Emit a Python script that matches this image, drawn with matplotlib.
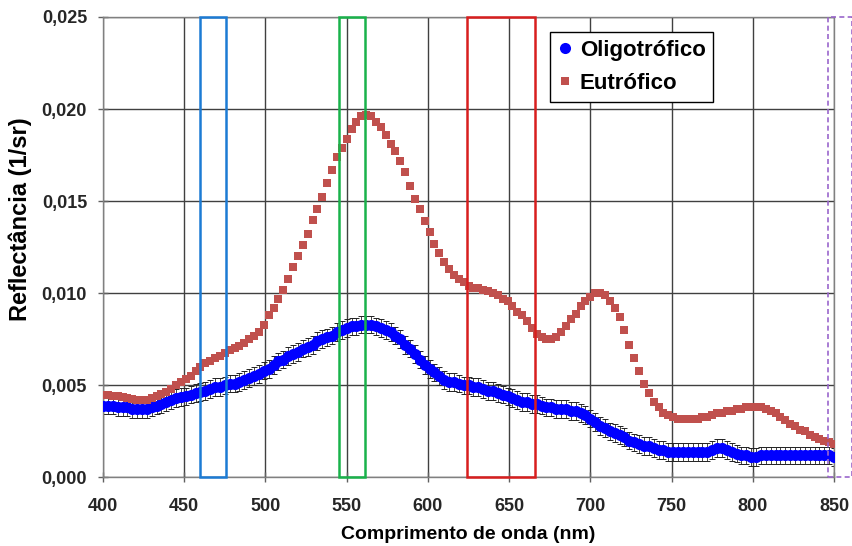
import matplotlib
matplotlib.use("Agg")
import matplotlib.pyplot as plt
from matplotlib.patches import Rectangle
from matplotlib.ticker import FuncFormatter, MultipleLocator

#-------data-------
wavelength = list(range(400, 851, 3))

oligo = [0.0039, 0.0039, 0.0039, 0.0038, 0.0038, 0.0038, 0.0037, 0.0037, 0.0037, 0.0037,
         0.0038, 0.0039, 0.0040, 0.0041, 0.0042, 0.0043, 0.00435, 0.0044, 0.0045, 0.0046,
         0.00465, 0.0047, 0.0048, 0.0049, 0.0049, 0.0050, 0.0051, 0.0051, 0.0052, 0.0053,
         0.0054, 0.0055, 0.0056, 0.0058, 0.0059, 0.0061, 0.0063, 0.0064, 0.0066, 0.0067,
         0.0068, 0.0070, 0.0071, 0.0072, 0.0074, 0.0075, 0.0076, 0.0077, 0.0079, 0.0080,
         0.0081, 0.0082, 0.0082, 0.0083, 0.0083, 0.0083, 0.0082, 0.0081, 0.0080, 0.0079,
         0.0077, 0.0075, 0.0072, 0.0070, 0.0067, 0.0064, 0.0061, 0.0059, 0.0057, 0.0055,
         0.0053, 0.0052, 0.0052, 0.0051, 0.0050, 0.0050, 0.0049, 0.0049, 0.0048, 0.0047,
         0.0047, 0.0046, 0.0045, 0.0044, 0.0043, 0.0042, 0.0041, 0.0041, 0.0040, 0.0040,
         0.0039, 0.0038, 0.0038, 0.0037, 0.0037, 0.0037, 0.0036, 0.0036, 0.0035, 0.0034,
         0.0032, 0.0030, 0.0028, 0.0027, 0.0025, 0.0024, 0.0023, 0.0022, 0.0020, 0.0019,
         0.0018, 0.0017, 0.0017, 0.0016, 0.0015, 0.0015, 0.0014, 0.0014, 0.0014, 0.0014,
         0.0014, 0.0014, 0.0014, 0.0014, 0.0014, 0.0015, 0.0016, 0.0016, 0.0015, 0.0014,
         0.0013, 0.0012, 0.0012, 0.0011, 0.0011, 0.0012, 0.0012, 0.0012, 0.0012, 0.0012,
         0.0012, 0.0012, 0.0012, 0.0012, 0.0012, 0.0012, 0.0012, 0.0012, 0.0012, 0.0012,
         0.0011]

eutro = [0.00447, 0.00446, 0.00444, 0.0044, 0.00436, 0.0043, 0.00424, 0.0042, 0.0042, 0.00422,
         0.0043, 0.0044, 0.00454, 0.00466, 0.0048, 0.0050, 0.0052, 0.00536, 0.0055, 0.0058,
         0.0060, 0.0062, 0.00634, 0.00646, 0.0066, 0.00675, 0.0069, 0.00704, 0.00716, 0.0073,
         0.0075, 0.0077, 0.0079, 0.0083, 0.0088, 0.0092, 0.0097, 0.0102, 0.0108, 0.0114,
         0.0120, 0.0126, 0.0132, 0.0140, 0.0146, 0.0152, 0.0160, 0.0167, 0.0174, 0.0179,
         0.0184, 0.0189, 0.0193, 0.0196, 0.0197, 0.0196, 0.0193, 0.0190, 0.0186, 0.0181,
         0.0177, 0.0172, 0.0166, 0.0158, 0.0151, 0.0146, 0.0139, 0.0133, 0.0127, 0.0122,
         0.0117, 0.0113, 0.0110, 0.0108, 0.0106, 0.0104, 0.0103, 0.0103, 0.0102, 0.0101,
         0.0100, 0.0099, 0.0097, 0.0096, 0.0093, 0.0090, 0.0088, 0.0085, 0.0081, 0.0078,
         0.0076, 0.0075, 0.0075, 0.0076, 0.0079, 0.0082, 0.0086, 0.0089, 0.0093, 0.0096,
         0.0098, 0.0100, 0.0100, 0.0099, 0.0096, 0.0092, 0.0087, 0.0080, 0.0072, 0.0065,
         0.0058, 0.0051, 0.0046, 0.0041, 0.0038, 0.0035, 0.0034, 0.0033, 0.0032, 0.0032,
         0.0032, 0.0032, 0.0032, 0.0033, 0.0033, 0.0034, 0.0035, 0.0035, 0.0036, 0.0036,
         0.0037, 0.0037, 0.0038, 0.0038, 0.0038, 0.0038, 0.0037, 0.0036, 0.0035, 0.0033,
         0.0031, 0.0029, 0.0028, 0.0026, 0.0025, 0.0023, 0.0022, 0.0021, 0.0020, 0.0019,
         0.0018]

oligo_err = 0.00048

# spectral bands (start, end) in nm
bands = [(460, 476), (545, 561), (624, 666), (846, 861)]
band_colors = ["#1C7BD4", "#19B24B", "#D81E1E", "#9A66CC"]
band_styles = ["-", "-", "-", (0, (3, 2))]

#-------graph-------
plt.rcParams['font.family'] = ['Liberation Sans', 'DejaVu Sans']
fig = plt.figure(figsize=(8.52, 5.46), dpi=100)
ax = fig.add_axes([0.1209, 0.1255, 0.858, 0.8435])

# error bars behind the blue dots
ax.errorbar(wavelength, oligo, yerr=oligo_err, fmt='none', ecolor='#222222',
            elinewidth=0.6, capsize=2.0, capthick=0.7, zorder=2)
ax.plot(wavelength, oligo, 'o', color='blue', markersize=8, markeredgewidth=0,
        label='Oligotrófico', zorder=3)
ax.plot(wavelength, eutro, 's', color='#C0504D', markersize=6,
        markeredgewidth=0, label='Eutrófico', zorder=4)

for (x0, x1), c, ls in zip(bands, band_colors, band_styles):
    lw = 1.2 if ls != "-" else 1.8
    ax.add_patch(Rectangle((x0, 0), x1 - x0, 0.025, fill=False, edgecolor=c,
                           linewidth=lw, linestyle=ls, clip_on=False, zorder=5))

ax.set_xlim(400, 850)
ax.set_ylim(0, 0.025)
ax.xaxis.set_major_locator(MultipleLocator(50))
ax.yaxis.set_major_locator(MultipleLocator(0.005))
ax.yaxis.set_major_formatter(FuncFormatter(lambda v, p: f"{v:.3f}".replace('.', ',')))

ax.grid(True, color='#404040', linewidth=1.0, zorder=0)
ax.set_axisbelow(True)
for s in ax.spines.values():
    s.set_color('#808080')
    s.set_linewidth(1.0)
ax.tick_params(direction='inout', length=7, width=1, color='#606060',
               labelsize=13, labelcolor='#262626')
ax.tick_params(axis='x', pad=11)
ax.tick_params(axis='y', pad=8)
for lab in ax.get_xticklabels() + ax.get_yticklabels():
    lab.set_fontweight('bold')

ax.set_xlabel('Comprimento de onda (nm)', fontsize=14, fontweight='bold', labelpad=8)
ax.set_ylabel('Reflectância (1/sr)', fontsize=17, fontweight='bold')
ax.yaxis.set_label_coords(-0.097, 0.56)

leg = ax.legend(loc='upper left', bbox_to_anchor=(0.611, 0.967), fancybox=False,
                edgecolor='black', framealpha=1, prop={'size': 16, 'weight': 'bold'},
                handletextpad=0.3, borderpad=0.35, handlelength=0.7, labelspacing=0.55,
                borderaxespad=0)
leg.get_frame().set_linewidth(1.0)

fig.savefig('out.png', dpi=100)
